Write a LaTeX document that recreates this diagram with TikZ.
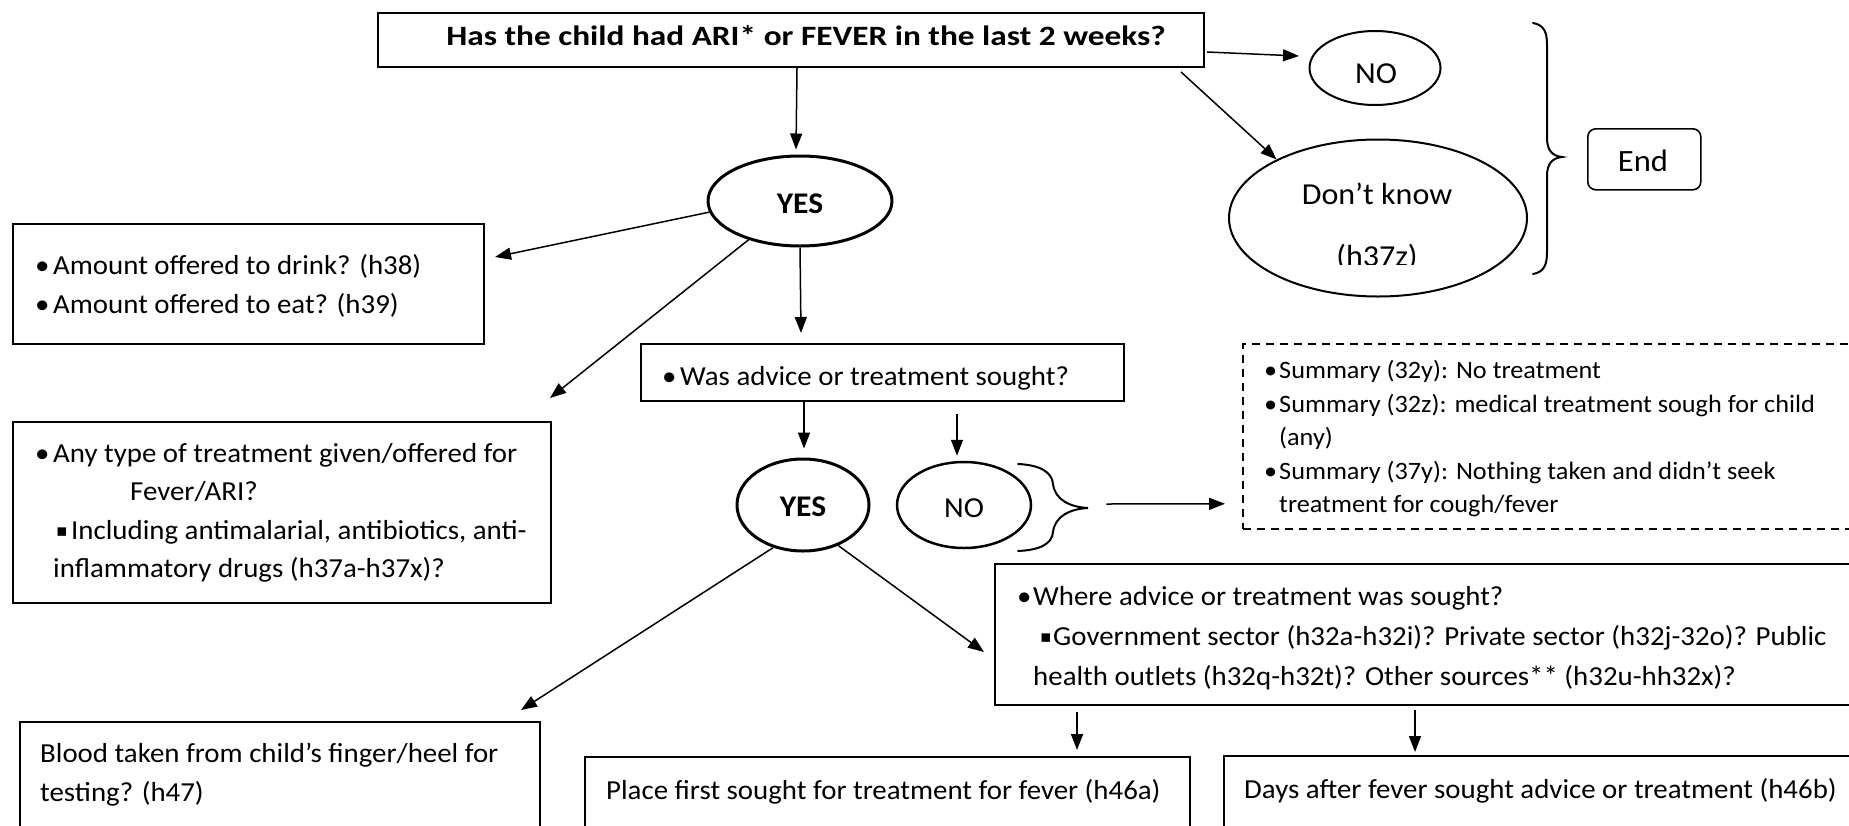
\documentclass[tikz,border=0pt]{standalone}
\usepackage{fontspec}
\setmainfont[FakeStretch=1.05]{Carlito}
\newfontfamily\headfam[FakeStretch=1.19]{Carlito}
\newfontfamily\symfont{DejaVu Sans}
\usetikzlibrary{arrows.meta,shapes.geometric}

\newcommand\bodysize{\fontsize{27.5}{33}\selectfont}
\newcommand\smallsize{\fontsize{25}{30}\selectfont}
\newcommand\ovalsize{\fontsize{30.5}{36}\selectfont}
\newcommand\bul[1]{\makebox[#1][l]{•}}
\newcommand\sqb[1]{\makebox[#1][l]{\raisebox{0.08em}{\symfont\fontsize{17}{17}\selectfont ▪}}}

\tikzset{
  box/.style={draw, line width=2pt, inner sep=0pt, anchor=north west},
  dashbox/.style={draw, line width=1.6pt, dash pattern=on 8pt off 6pt, inner sep=0pt, anchor=north west},
  oval/.style={draw, ellipse, line width=2pt, inner sep=0pt},
  thickoval/.style={oval, line width=3pt},
  txt/.style={inner sep=0pt, anchor=base west, font=\bodysize},
  ovaltxt/.style={inner sep=0pt, anchor=base, font=\ovalsize},
  yestxt/.style={inner sep=0pt, font=\fontsize{30}{32}\selectfont\bfseries},
  arr/.style={-{Triangle[length=16pt,width=12pt]}, line width=1.5pt},
  bracepath/.style={line width=2pt, line cap=round}
}

\begin{document}
\begin{tikzpicture}[x=1pt, y=-1pt]
\useasboundingbox (0,0) rectangle (1849,825);
\clip (0,0) rectangle (1849,825);

% ---- question box at the top and its three answers ----
\node[box, minimum width=826, minimum height=54] (title) at (377,12) {};
\node[inner sep=0pt, anchor=base, font=\fontsize{28}{32}\selectfont\headfam\bfseries] (titletext) at (806,45)
  {Has the child had ARI* or FEVER in the last 2 weeks?};

\node[oval, minimum width=131, minimum height=74] (no) at (1375,68) {};
\node[ovaltxt] (notext) at (1376,83) {NO};

\node[oval, minimum width=298, minimum height=157] (dk) at (1378,218) {};
\node[ovaltxt] (dktext) at (1377,204) {Don’t know};
\begin{scope}
  \clip (1250,230) rectangle (1500,264);
  \node[ovaltxt] (dkcode) at (1377,266) {(h37z)};
\end{scope}

\draw[bracepath] (1533,23) .. controls (1544,25) and (1547,32) .. (1547,45)
  -- (1547,138) .. controls (1547,150) and (1552,156) .. (1562,157)
  .. controls (1552,158) and (1547,164) .. (1547,176)
  -- (1547,252) .. controls (1547,265) and (1544,272) .. (1533,274);

\node[box, rounded corners=8pt, line width=1.6pt, minimum width=113, minimum height=61] (endb) at (1587,128) {};
\node[ovaltxt, font=\fontsize{31}{36}\selectfont] (endtext) at (1643,171) {End};

\node[thickoval, minimum width=184, minimum height=90] (yes) at (800,201) {};
\node[yestxt] (yestext) at (800,204) {YES};

% ---- questions asked after YES ----
\node[box, minimum width=471, minimum height=120] (amount) at (12,223) {};
\node[txt] (am1) at (35,274) {\bul{18pt}Amount offered to drink? (h38)};
\node[txt] (am2) at (35,313) {\bul{18pt}Amount offered to eat? (h39)};

\node[box, minimum width=483, minimum height=57] (advice) at (640,343) {};
\node[txt] (adv1) at (662,385) {\bul{18pt}Was advice or treatment sought?};

\node[box, minimum width=538, minimum height=181] (anytype) at (12,421) {};
\node[txt] (an1) at (35,462) {\bul{18pt}Any type of treatment given/offered for};
\node[txt] (an2) at (130,500) {Fever/ARI?};
\node[txt] (an3) at (56,539) {\sqb{15pt}Including antimalarial, antibiotics, anti-};
\node[txt] (an4) at (53,577) {inflammatory drugs (h37a-h37x)?};

\node[thickoval, minimum width=132, minimum height=92] (yes2) at (803,505) {};
\node[yestxt] (yes2text) at (803,507) {YES};

\node[oval, line width=2.5pt, minimum width=134, minimum height=86] (no2) at (964,505) {};
\node[inner sep=0pt, font=\fontsize{29}{30}\selectfont] (no2text) at (964,508) {NO};

\draw[bracepath] (1018,464) .. controls (1040,465) and (1052,472) .. (1053,484)
  .. controls (1055,500) and (1070,507) .. (1088,508)
  .. controls (1070,509) and (1055,516) .. (1053,532)
  .. controls (1052,544) and (1040,550) .. (1018,551);

\node[dashbox, minimum width=700, minimum height=185] (dashed) at (1242,343) {};
\node[txt, font=\smallsize] (su1) at (1264,378) {\bul{15pt}Summary (32y): No treatment};
\node[txt, font=\smallsize] (su2) at (1264,412) {\bul{15pt}Summary (32z): medical treatment sough for child};
\node[txt, font=\smallsize] (su3) at (1279,445) {(any)};
\node[txt, font=\smallsize] (su4) at (1264,479) {\bul{15pt}Summary (37y): Nothing taken and didn’t seek};
\node[txt, font=\smallsize] (su5) at (1279,512) {treatment for cough/fever};

\node[box, minimum width=900, minimum height=141] (where) at (994,563) {};
\node[txt] (wh1) at (1017,605) {\bul{16pt}Where advice or treatment was sought?};
\node[txt] (wh2) at (1040,645) {\sqb{13pt}Government sector (h32a-h32i)? Private sector (h32j-32o)? Public};
\node[txt] (wh3) at (1033,685) {health outlets (h32q-h32t)? Other sources** (h32u-hh32x)?};

% ---- boxes along the bottom ----
\node[box, minimum width=520, minimum height=150] (blood) at (19,721) {};
\node[txt] (bl1) at (40,762) {Blood taken from child’s finger/heel for};
\node[txt] (bl2) at (40,801) {testing? (h47)};

\node[box, minimum width=605, minimum height=120] (place) at (584,756) {};
\node[txt] (pl1) at (606,799) {Place first sought for treatment for fever (h46a)};

\node[box, minimum width=700, minimum height=120] (days) at (1223,755) {};
\node[txt] (da1) at (1244,798) {Days after fever sought advice or treatment (h46b)};

% ---- connectors ----
\draw[arr] ([xshift=6pt]title.south) -- ([xshift=-4pt,yshift=5pt]yes.north);
\draw[arr] ([xshift=2pt,yshift=-12pt]title.east) -- ([xshift=-9.5pt,yshift=12pt]no.west);
\draw[arr] ([xshift=-24pt,yshift=-4pt]title.south east) -- (dk.150);
\draw[arr] (yes.187) -- ([xshift=10pt,yshift=27pt]amount.east);
\draw[arr] (yes.217) -- ([xshift=-2pt,yshift=23pt]anytype.north east);
\draw[arr] (yes.south) -- ([xshift=161pt,yshift=10pt]advice.north west);
\draw[arr] ([xshift=164pt]advice.south west) -- ([xshift=1pt,yshift=9pt]yes2.north);
\draw[arr] ([xshift=317pt,yshift=-12pt]advice.south west) -- ([xshift=-7pt,yshift=5pt]no2.north);
\draw[arr] ([xshift=74pt,yshift=1pt]no2.east) -- ([xshift=-17pt,yshift=-67.5pt]dashed.west);
\draw[arr] (yes2.235) -- ([xshift=-20pt,yshift=11pt]blood.north east);
\draw[arr] (yes2.311) -- ([xshift=-10pt,yshift=-89pt]where.north west);
\draw[arr] ([xshift=83pt,yshift=-6pt]where.south west) -- ([xshift=493pt,yshift=6pt]place.north west);
\draw[arr] ([xshift=421pt,yshift=-4pt]where.south west) -- ([xshift=192pt,yshift=3pt]days.north west);
\end{tikzpicture}
\end{document}
